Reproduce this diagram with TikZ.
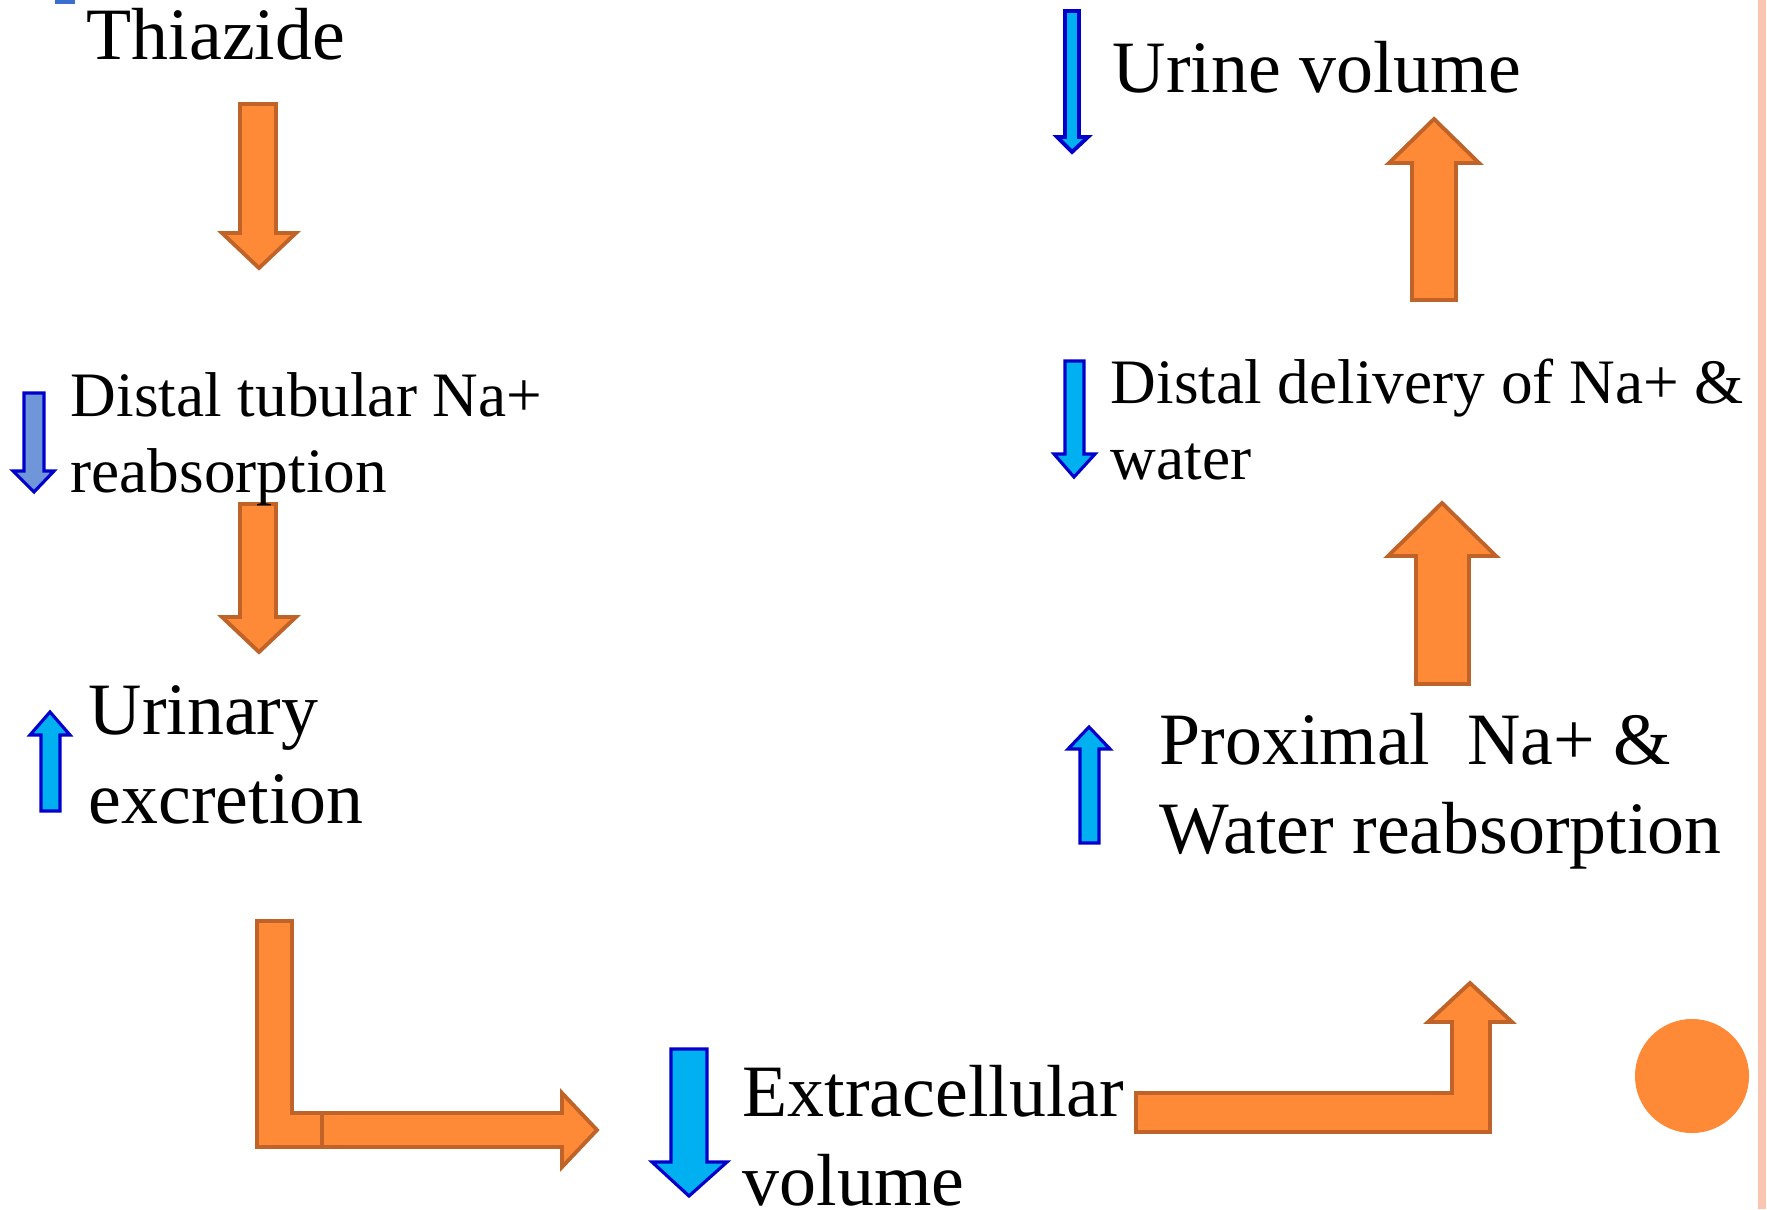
\documentclass[tikz,border=0pt]{standalone}
\usepackage{fontspec}
\setmainfont{Liberation Serif}
\usepackage{xcolor}
\definecolor{blkorange}{HTML}{FE8A38}
\definecolor{blkedge}{HTML}{BF6329}
\definecolor{arrblue}{HTML}{0000CC}
\definecolor{arrcyan}{HTML}{00B0F0}
\definecolor{arrsky}{HTML}{6F96D8}
\definecolor{tipblue}{HTML}{3A6FD0}
\definecolor{edgepink}{HTML}{FBC5B1}
\usepackage{tikz}
\usetikzlibrary{positioning}

\begin{document}
\begin{tikzpicture}[x=0.01cm, y=-0.01cm,
  big/.style={anchor=base west, inner sep=0pt, align=left,
              font=\fontsize{21}{25.3}\selectfont},
  small/.style={anchor=base west, inner sep=0pt, align=left,
                font=\fontsize{18}{21.6}\selectfont},
  orangeblk/.style={draw=blkedge, fill=blkorange, line width=1.1pt, line join=miter},
  bluedown/.style={draw=arrblue, fill=arrcyan, line width=0.9pt, line join=miter}
]
  \useasboundingbox (0,0) rectangle (1767,1209);

  % orange block arrows
  \draw[orangeblk] (240,104) -- (276,104) -- (276,233) -- (296,233) -- (259,268)
    -- (222,233) -- (240,233) -- cycle;
  \draw[orangeblk] (240,504) -- (276,504) -- (276,617) -- (296,617) -- (259,652)
    -- (222,617) -- (240,617) -- cycle;
  \draw[orangeblk] (257,921) -- (292,921) -- (292,1113) -- (322,1113) -- (322,1147)
    -- (257,1147) -- cycle;
  \draw[orangeblk] (322,1113) -- (562,1113) -- (562,1093) -- (597,1130) -- (562,1167)
    -- (562,1147) -- (322,1147) -- cycle;
  \draw[orangeblk] (1136,1093) -- (1452,1093) -- (1452,1022) -- (1428,1022) -- (1470,983)
    -- (1512,1022) -- (1490,1022) -- (1490,1132) -- (1136,1132) -- cycle;
  \draw[orangeblk] (1416,684) -- (1416,556) -- (1388,556) -- (1442,503) -- (1496,556)
    -- (1469,556) -- (1469,684) -- cycle;
  \draw[orangeblk] (1412,300) -- (1412,163) -- (1389,163) -- (1434,119) -- (1479,163)
    -- (1456,163) -- (1456,300) -- cycle;

  % blue up/down marks
  \fill[tipblue] (55,-20) rectangle (75,4);
  \draw[bluedown, fill=arrsky] (24,393) -- (44,393) -- (44,471) -- (54,471) -- (34,492)
    -- (13,471) -- (24,471) -- cycle;
  \draw[bluedown] (41,811) -- (41,735) -- (30,735) -- (50,712) -- (70,735)
    -- (60,735) -- (60,811) -- cycle;
  \draw[bluedown] (671,1049) -- (707,1049) -- (707,1162) -- (727,1162) -- (689,1196)
    -- (652,1162) -- (671,1162) -- cycle;
  \draw[bluedown] (1080,843) -- (1080,749) -- (1068,749) -- (1089,727) -- (1110,749)
    -- (1099,749) -- (1099,843) -- cycle;
  \draw[bluedown] (1065,361) -- (1084,361) -- (1084,454) -- (1095,454) -- (1074,477)
    -- (1054,454) -- (1065,454) -- cycle;
  \draw[bluedown, line width=1.1pt] (1065,11) -- (1079,11) -- (1079,137) -- (1088,137)
    -- (1072,152) -- (1057,137) -- (1065,137) -- cycle;

  \fill[blkorange] (1692,1076) circle (0.57cm);
  \fill[edgepink] (1758,0) rectangle (1766,1209);

  % texts (base = last line)
  \node[big]   (thiazide) at (86,59)    {Thiazide};
  \node[small] (distal)   at (70,492)   {Distal tubular Na+\\reabsorption};
  \node[big]   (urinary)  at (88,823)   {Urinary\\excretion};
  \node[big]   (ecv)      at (742,1205) {Extracellular\\volume};
  \node[big]   (proximal) at (1159,853) {Proximal\ \ Na+ \&\\Water reabsorption};
  \node[small] (delivery) at (1110,479) {Distal delivery of Na+ \&\\water};
  \node[big]   (urine)    at (1112,92)  {Urine volume};
\end{tikzpicture}
\end{document}
